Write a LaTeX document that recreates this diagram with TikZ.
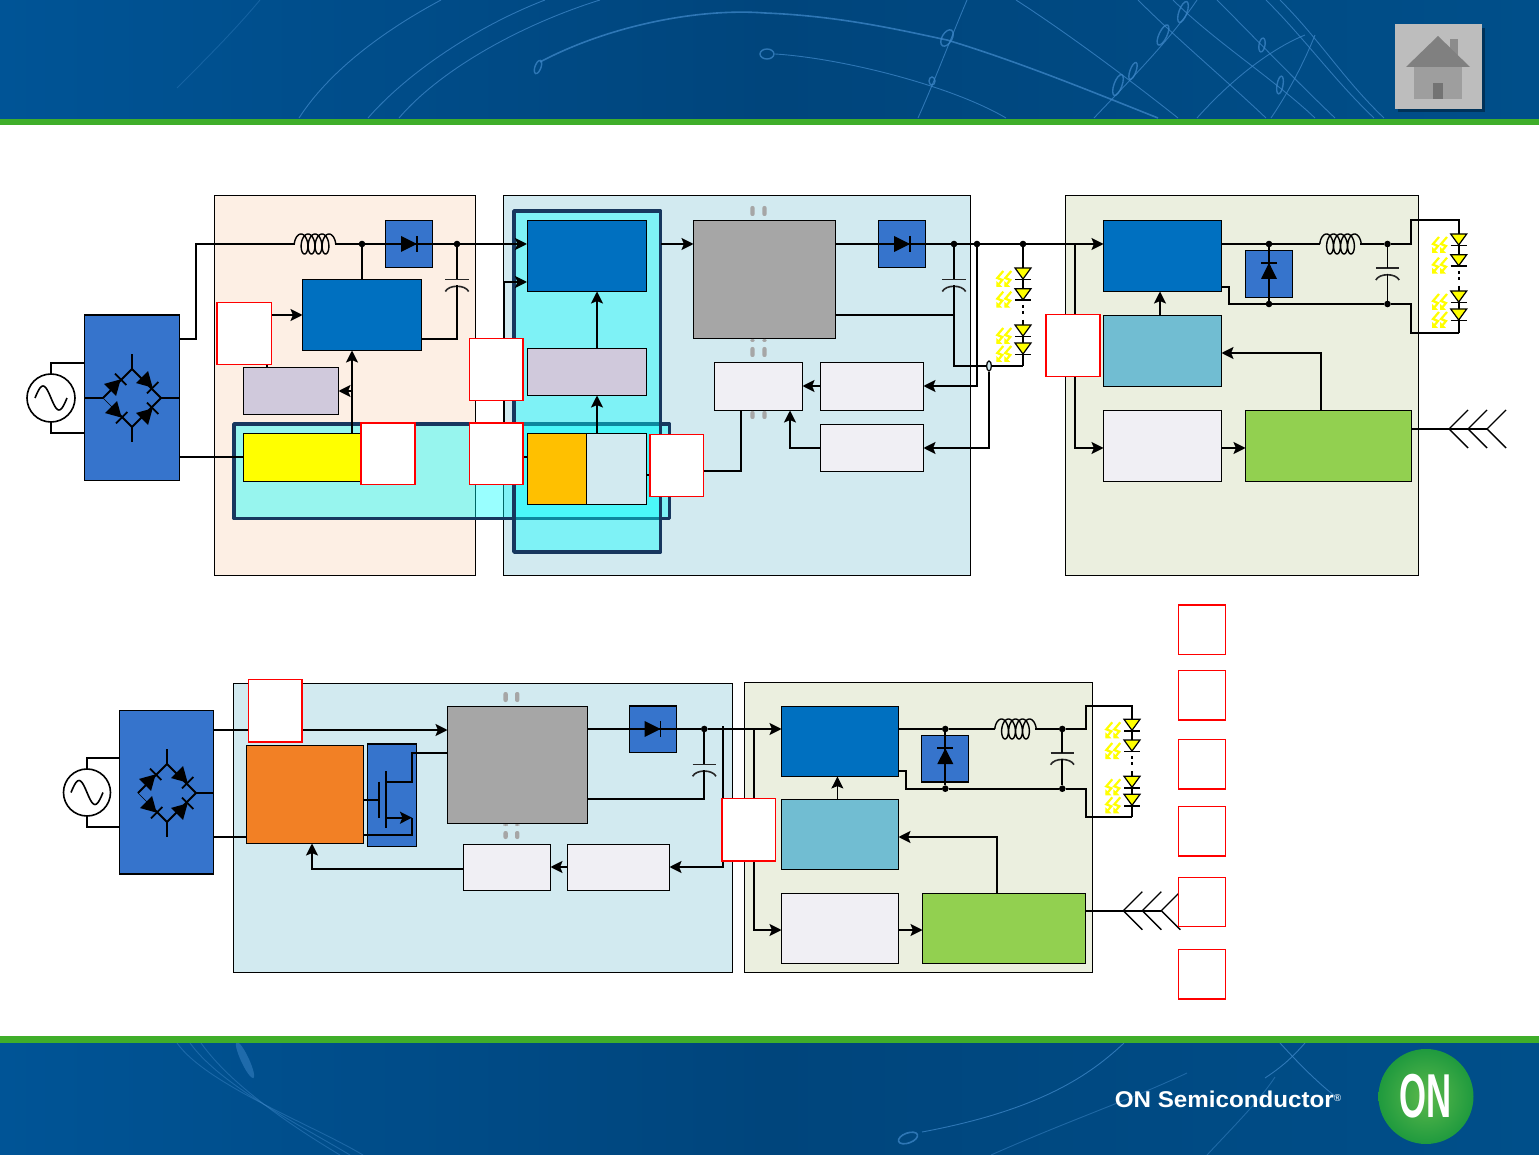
\documentclass[tikz,border=0pt]{standalone}
\usepackage{fontspec}
\setmainfont{Liberation Sans}
\usetikzlibrary{arrows.meta,calc,shapes.geometric}
\definecolor{peach}{HTML}{FDEFE4}
\definecolor{iceblue}{HTML}{D2EAF0}
\definecolor{olivebg}{HTML}{EBEFDF}
\definecolor{bridgeblue}{HTML}{3674CC}
\definecolor{ctrlblue}{HTML}{0070C0}
\definecolor{lilac}{HTML}{D0C9DC}
\definecolor{amber}{HTML}{FFC000}
\definecolor{midgray}{HTML}{A6A6A6}
\definecolor{pale}{HTML}{F0EFF4}
\definecolor{tealbox}{HTML}{71BDD2}
\definecolor{leaf}{HTML}{92D050}
\definecolor{burnt}{HTML}{F28025}
\definecolor{navy}{HTML}{17375E}
\definecolor{bandgreen}{HTML}{3FAE2A}
\definecolor{bgA}{HTML}{005496}
\definecolor{bgB}{HTML}{00457C}
\definecolor{bgC}{HTML}{004F8A}
\definecolor{swirl}{HTML}{3E87C8}
\definecolor{zonecyan}{RGB}{0,255,255}
\definecolor{ledyellow}{RGB}{255,255,0}
\definecolor{alertred}{RGB}{255,0,0}
\definecolor{logoin}{HTML}{5CB94B}
\definecolor{logoout}{HTML}{1F9A3E}
\tikzset{
  blockbox/.style={draw=black,line width=.5pt},
  wire/.style={draw=black,line width=.9pt,line join=miter},
  flow/.style={wire,-{Stealth[length=6pt,width=6pt,inset=1.2pt]}},
  jdot/.style={circle,fill=black,inner sep=0pt,minimum size=3.3pt,outer sep=0pt},
  redbox/.style={draw=alertred,line width=.65pt,fill=white},
  zone/.style={draw=navy,line width=1.75pt,fill=zonecyan,fill opacity=.4,draw opacity=1,line join=round},
  swirlline/.style={draw=swirl,line width=.45pt,opacity=.75},
}
\newcommand\bx[6]{\node[#6,rectangle,inner sep=0pt,outer sep=0pt,minimum width={(#4-#2)*0.5pt},minimum height={(#5-#3)*0.5pt}] (#1) at ({(#2+#4)/2},{(#3+#5)/2}) {};}
\newcommand\coil[3]{\coordinate (#1-a) at (#2,#3); \coordinate (#1-b) at ({#2+40},#3);
  \draw[wire,line width=.7pt] plot[domain=-90:1530,samples=190,smooth] ({#2+6.5+7*\x/360+5*sin(\x)},{#3-10*cos(\x)});}
\newcommand\hdiode[2]{\fill[black] ({#1-8},{#2-8})--({#1-8},{#2+8})--({#1+8},#2)--cycle; \draw[wire] ({#1+8},{#2-8})--({#1+8},{#2+8});}
\newcommand\updiode[3]{\fill[black] ({#1-8},#3)--({#1+8},#3)--(#1,#2)--cycle; \draw[wire] ({#1-8},#2)--({#1+8},#2);}
\newcommand\capac[3]{\coordinate (#1-a) at (#2,#3); \coordinate (#1-b) at (#2,{#3+6});
  \draw[wire,line width=.8pt,black!85] ({#2-11.7},#3)--({#2+11.7},#3);
  \draw[wire,line width=.8pt,black!85] ({#2-11.7},{#3+12}) .. controls ({#2-8},{#3+5}) and ({#2+8},{#3+5}) .. ({#2+11.7},{#3+12});}
\newcommand\acsrc[4]{\node[circle,draw=black,line width=.8pt,fill=white,inner sep=0pt,outer sep=0pt,minimum size={2*#4*0.5pt}] (#1) at (#2,#3) {};
  \draw[wire,line width=.8pt] plot[domain=-1:1,samples=40,smooth] ({#2+16*\x},{#3+12*sin(\x*180)});}
\newcommand\bdiode[3]{\begin{scope}[shift={(#1,#2)},rotate=#3]
  \fill[black] (-7,-8.5)--(-7,8.5)--(8,0)--cycle; \draw[wire] (8,-8)--(8,8);\end{scope}}
\newcommand\rectifier[3]{% name, cx, cy
  \coordinate (#1-t) at (#2,{#3-29}); \coordinate (#1-b) at (#2,{#3+29});
  \coordinate (#1-l) at ({#2-29},#3); \coordinate (#1-r) at ({#2+29},#3);
  \draw[wire] (#1-l)--(#1-t)--(#1-r)--(#1-b)--({#2-12},{#3+17});
  \draw[black,line width=.25pt] (#1-l)--({#2-12},{#3+17});
  \draw[wire] (#1-t)--++(0,-15); \draw[wire] (#1-b)--++(0,15);
  \bdiode{#2-17}{#3-13}{45}
  \bdiode{#2+15}{#3-16}{-45}
  \bdiode{#2-16}{#3+14}{-45}
  \bdiode{#2+15}{#3+16}{45}}
\newcommand\glow[2]{\begin{scope}[shift={(#1,#2)}]
  \draw[ledyellow,line width=1.1pt] (7,0)--(1,7)--(6,9)--(1,15);
  \draw[ledyellow,line width=1.1pt] (15,0)--(9,7)--(14,9)--(9,15);
  \fill[ledyellow] (0,16)--(0,10)--(6,16)--cycle; \fill[ledyellow] (8,16)--(8,10)--(14,16)--cycle;
  \end{scope}}
\newcommand\ledtri[2]{\filldraw[fill=ledyellow,draw=black,line width=.6pt] ({#1-8},#2)--({#1+8},#2)--(#1,{#2+11})--cycle;
  \draw[wire] ({#1-8},{#2+11.5})--({#1+8},{#2+11.5});\glow{#1-26.7}{#2+3}}
\newcommand\ledstack[4]{% name, x, ytop of first LED, y of bottom rail
  \coordinate (#1-top) at (#2,#3); \coordinate (#1-bot) at (#2,{#3+52}); \coordinate (#1-rail) at (#2,#4);
  \draw[wire] (#1-top)--++(0,31);
  \draw[black,line width=1.1pt,dash pattern=on 1.5pt off 1.5pt] (#2,{#3+37})--(#2,{#3+48});
  \draw[wire] (#1-bot)--(#1-rail);
  \ledtri{#2}{#3}\ledtri{#2}{#3+20.7}\ledtri{#2}{#3+57}\ledtri{#2}{#3+75}}
\newcommand\gdot[3]{\fill[midgray,rounded corners=1pt] ({#1-2.2},#2) rectangle ({#1+2.2},#3);}
\newcommand\antenna[4]{% name x0 xv y
  \coordinate (#1) at (#3,#4);
  \foreach \k in {0,1,2}{\draw[wire,line width=.7pt] ({#3+19*\k+19},{#4-19})--({#3+19*\k},#4)--({#3+19*\k+19},{#4+19});}}
\begin{document}
\begin{tikzpicture}[x=0.5pt,y=-0.5pt]
\useasboundingbox (0,0) rectangle (1539,1155);
% ---- banners
\shade[left color=bgA,right color=bgC,middle color=bgB] (0,0) rectangle (1539,120);
\shade[left color=bgA,right color=bgC,middle color=bgB] (0,1042) rectangle (1539,1155);
\begin{scope}
\clip (0,0) rectangle (1539,119);
\draw[swirlline,opacity=.35] (177,88)..controls (205,60) and (235,30)..(260,0);
\draw[swirlline] (299,118)..controls (330,70) and (385,30)..(441,0);
\draw[swirlline] (368,118)..controls (410,70) and (480,25)..(545,0);
\draw[swirlline] (399,118)..controls (440,70) and (520,25)..(600,0);
\draw[swirlline,line width=.8pt] (540,62)..controls (610,25) and (700,8)..(765,13)..controls (840,16) and (900,30)..(947,40)..controls (1020,62) and (1100,95)..(1158,118);
\draw[swirlline] (775,54)..controls (840,58) and (950,85)..(1006,118);
\draw[swirlline] (918,118)..controls (935,80) and (950,40)..(967,0);
\draw[swirlline] (1016,0)..controls (1070,35) and (1130,80)..(1178,118);
\foreach \a/\b in {1138/1266,1173/1315,1217/1335,1266/1374,1280/1384}{\draw[swirlline] (\a,0)..controls ({\a+40},40) and ({\b-40},80)..(\b,118);}
\draw[swirlline] (1094,118)..controls (1130,80) and (1170,40)..(1197,0);
\draw[swirlline] (1197,118)..controls (1240,70) and (1280,45)..(1305,35);
\draw[swirlline] (1271,118)..controls (1290,90) and (1305,60)..(1315,35);
\foreach \ex/\ey/\ra/\rb/\ang in {538/67/3/7/-20,767/54/7/5/0,947/38/5/9/-30,932/81/3/4/0,1118/85/4/11/-20,1133/71/3/9/-20,1163/35/4/11/-25,1183/12/4/11/-20,1280/85/3/9/-10,1262/45/3/7/-10}{
  \draw[swirlline,line width=.7pt] (\ex,\ey) ellipse[x radius=\ra,y radius=\rb,rotate=\ang];}
\end{scope}
\begin{scope}
\clip (0,1043) rectangle (1539,1155);
\foreach \a/\b in {177/363,190/350,201/340}{\draw[swirlline,opacity=.45] (\a,1043)..controls ({\a+30},1085) and ({\b-50},1125)..(\b,1155);}
\fill[swirl,opacity=.5] (245,1060) ellipse[x radius=4,y radius=20,rotate=25];
\draw[swirlline] (1124,1043)..controls (1090,1075) and (1040,1110)..(922,1132);
\draw[swirlline,line width=.8pt] (908,1138) ellipse[x radius=10,y radius=5,rotate=20];
\draw[swirlline,opacity=.5] (991,1155)..controls (1070,1120) and (1130,1100)..(1187,1073);
\draw[swirlline,opacity=.5] (1207,1155)..controls (1235,1125) and (1260,1100)..(1275,1077);
\draw[swirlline] (1305,1043)..controls (1290,1060) and (1280,1068)..(1265,1078);
\draw[swirlline] (1280,1043)..controls (1300,1065) and (1320,1085)..(1340,1100);
\end{scope}
\fill[bandgreen] (0,119) rectangle (1539,125);
\fill[bandgreen] (0,1036) rectangle (1539,1043);
% ---- home button
\fill[black,opacity=.35] (1398,28) rectangle (1485,112);
\node[rectangle,fill=black!26,inner sep=0pt,outer sep=0pt,minimum width=43.5pt,minimum height=42.5pt] (homebtn) at (1438.5,67) {};
\fill[black!45] (1450,39) rectangle (1458,62);
\fill[black!38] (1414,67) rectangle (1462,99);
\fill[black!55] (1433,83) rectangle (1443,99);
\fill[black!50] (1438,36)--(1470,67)--(1406,67)--cycle;
% ---- logo
\node[circle,inner sep=0pt,outer sep=0pt,minimum size=47.5pt,inner color=logoin,outer color=logoout] (onlogo) at (1426,1096.5)
  {\color{white}\fontsize{31}{31}\selectfont\bfseries\scalebox{.56}[1]{ON}};
\node[white,inner sep=0pt,font=\bfseries\fontsize{11.4}{13}\selectfont] (onword) at (1228,1099)
  {\scalebox{1.06}[1]{ON Semiconductor}\raisebox{3pt}{\fontsize{5}{6}\selectfont\mdseries ®}};
% ---- zones, top diagram
\bx{zoneA}{214}{196}{475.5}{575.5}{blockbox,fill=peach}
\bx{zoneB}{503.5}{196}{970.5}{575.5}{blockbox,fill=iceblue}
\bx{zoneC}{1065.5}{196}{1418.5}{575.5}{blockbox,fill=olivebg}
\bx{focusH}{234}{424}{669.5}{518.5}{zone}
\bx{focusV}{514}{211}{660.5}{552}{zone}
% ---- zones, lower diagram
\bx{zoneD}{233}{683.5}{732.5}{972.5}{blockbox,fill=iceblue}
\bx{zoneE}{744.5}{682.5}{1092.5}{972.5}{blockbox,fill=olivebg}
% ---- top boxes
\bx{brA}{84.5}{315}{179.5}{480.5}{blockbox,fill=bridgeblue}
\draw[black,line width=1pt] (brA.north west)--(brA.north east);
\bx{ctrlA}{302.5}{279.5}{421.5}{350.5}{blockbox,fill=ctrlblue}
\bx{dioA}{385.5}{220.5}{432.5}{267.5}{blockbox,fill=bridgeblue}
\bx{lilA}{243.5}{367.5}{338.5}{414.5}{blockbox,fill=lilac}
\bx{yelA}{243.5}{433.5}{362}{481.5}{blockbox,fill=ledyellow}
\bx{ctrlB}{527}{220.5}{646.5}{291.5}{blockbox,fill=ctrlblue}
\bx{lilB}{527}{348.5}{646.5}{395.5}{blockbox,fill=lilac}
\bx{ambA}{527}{433.5}{586.5}{504.5}{blockbox,fill=amber}
\bx{iceA}{586.5}{433.5}{646.5}{504.5}{blockbox,fill=iceblue}
\bx{swA}{693.5}{220.5}{835.5}{338.5}{blockbox,fill=midgray}
\bx{dioB}{878.5}{220.5}{925.5}{267.5}{blockbox,fill=bridgeblue}
\bx{palA}{714.5}{362.5}{802.5}{410.5}{blockbox,fill=pale}
\bx{palB}{820.5}{362.5}{923.5}{410.5}{blockbox,fill=pale}
\bx{palC}{820.5}{424.5}{923.5}{472}{blockbox,fill=pale}
\bx{ctrlC}{1103.5}{220.5}{1221.5}{291.5}{blockbox,fill=ctrlblue}
\bx{dioC}{1245.5}{250.5}{1292.5}{297.5}{blockbox,fill=bridgeblue}
\bx{tealA}{1103.5}{315.5}{1221.5}{386.5}{blockbox,fill=tealbox}
\bx{palD}{1103.5}{410.5}{1221.5}{481.5}{blockbox,fill=pale}
\bx{leafA}{1245.5}{410.5}{1411.5}{481.5}{blockbox,fill=leaf}
% gray pads
\foreach \gx in {752.5,764.5}{\gdot{\gx}{206}{216}\gdot{\gx}{339}{342}\gdot{\gx}{347}{357}\gdot{\gx}{411}{419}}
% ---- lower boxes
\bx{brB}{119.5}{710.5}{213.5}{874}{blockbox,fill=bridgeblue}
\draw[black,line width=1pt] (brB.south west)--(brB.south east);
\bx{orgA}{246.5}{745.5}{363.5}{843.5}{blockbox,fill=burnt}
\bx{fetA}{367.5}{743.5}{416.5}{846.5}{blockbox,fill=bridgeblue}
\draw[black,line width=1pt] (fetA.north west)--(fetA.north east);
\bx{swB}{447.5}{706.5}{587.5}{823.5}{blockbox,fill=midgray}
\bx{dioD}{629.5}{705.5}{676.5}{752.5}{blockbox,fill=bridgeblue}
\draw[black,line width=1pt] (dioD.north west)--(dioD.north east);
\bx{palE}{463.5}{844.5}{550.5}{890.5}{blockbox,fill=pale}
\bx{palF}{567.5}{844.5}{669.5}{890.5}{blockbox,fill=pale}
\bx{ctrlD}{781.5}{706.5}{898.5}{776.5}{blockbox,fill=ctrlblue}
\bx{dioE}{921.5}{735.5}{968.5}{782}{blockbox,fill=bridgeblue}
\draw[black,line width=1pt] (dioE.south west)--(dioE.south east);
\bx{tealB}{781.5}{799.5}{898.5}{869.5}{blockbox,fill=tealbox}
\bx{palG}{781.5}{893.5}{898.5}{963.5}{blockbox,fill=pale}
\bx{leafB}{922.5}{893.5}{1085.5}{963.5}{blockbox,fill=leaf}
\foreach \gx in {505.6,517.2}{\gdot{\gx}{692}{702}\gdot{\gx}{824}{826}\gdot{\gx}{831}{839}}
% ---- top diagram : input
\acsrc{acA}{51}{398}{24}
\draw[wire] (acA.north)|-(brA.west |- 0,363);
\draw[wire] (acA.south)|-(brA.west |- 0,433);
\rectifier{rcA}{132}{398}
\draw[wire] (brA.west |- rcA-l)--(rcA-l);
\draw[wire] (rcA-r)--(brA.east |- rcA-r);
% PFC stage
\coil{lA}{294.5}{244}
\node[jdot] (jA) at (362,244) {};
\node[jdot] (jB) at (457,244) {};
\draw[wire] (brA.east |- 0,339)-|(196,244)--(lA-a);
\draw[wire] (lA-b)--(jA)--(dioA.center);
\hdiode{409}{244}
\draw[flow] (dioA.center)--(jB)--(ctrlB.west |- jB);
\draw[wire] (jA)--(ctrlA.north -| jA);
\capac{cA}{457}{279.5}
\draw[wire] (jB)--(cA-a);
\draw[wire] (cA-b)--(457,339)--(ctrlA.east |- 0,339);
\draw[flow] (ctrlA.west |- 0,315)++(-32,0)--(ctrlA.west |- 0,315);
\draw[wire] (yelA.west |- 0,457)--(brA.east |- 0,457);
\draw[flow] (352,433.5)--(352,350.5);
\draw[flow] (352,391)--(lilA.east |- 0,391);
\draw[wire] (267,362)--(267,367.5);
% feed to second controller
\draw[flow] (504,457)--(504,282)--(ctrlB.west |- 0,282);
\draw[wire] (504,457)--(ambA.west |- 0,457);
\draw[flow] (597,433.5)--(lilB.south -| 597,0);
\draw[flow] (lilB.north -| 597,0)--(ctrlB.south -| 597,0);
\draw[flow] (661,244)--(swA.west |- 0,244);
% switcher output
\node[jdot] (jC) at (954,244) {};
\node[jdot] (jD) at (977,244) {};
\node[jdot] (jE) at (1023,244) {};
\draw[wire] (swA.east |- 0,244)--(dioB.center);
\hdiode{902}{244}
\draw[flow] (dioB.center)--(jC)--(jD)--(jE)--(ctrlC.west |- jE);
\capac{cB}{954}{279.5}
\draw[wire] (jC)--(cB-a);
\draw[wire] (cB-b)--(954,366)--(1023,366);
\draw[wire] (swA.east |- 0,315)--(954,315);
\ledstack{ledA}{1023}{268}{366}
\draw[wire] (jE)--(ledA-top);
\node[ellipse,draw=black,line width=.6pt,fill=iceblue,inner sep=0pt,minimum width=2.4pt,minimum height=5pt] (sense) at (989,366) {};
\draw[flow] (jD)--(977,386)--(palB.east |- 0,386);
\draw[flow] (sense.south)--(989,448)--(palC.east |- 0,448);
\draw[flow] (palB.west |- 0,386)--(palA.east |- 0,386);
\draw[flow] (palC.west)-|(790,410.5);
\draw[wire] (703,471)-|(741,410.5);
\draw[wire] (646.5,475)--(650,475);
% LED driver, top
\node[jdot] (jF) at (1269,244) {};
\node[jdot] (jG) at (1387.5,244) {};
\node[jdot] (jH) at (1269,304) {};
\node[jdot] (jI) at (1387.5,304) {};
\coil{lB}{1320}{244}
\ledstack{ledB}{1458.7}{234}{332.7}
\draw[wire] (ctrlC.east |- jF)--(jF)--(lB-a);
\draw[wire] (lB-b)--(jG)--(1411,244)--(1411,220)--(ledB-top |- 0,220)--(ledB-top);
\draw[wire] (ctrlC.east |- 0,287)--(1229,287)--(1229,304)--(jH)--(jI)--(1411,304)--(1411,332.7)--(ledB-rail);
\draw[wire] (jF)--(jH);
\updiode{1269}{262.7}{279}
\capac{cC}{1387.5}{268}
\draw[wire] (jG)--(cC-a);
\draw[wire] (cC-b)--(jI);
\draw[flow] (tealA.north -| 1160,0)--(ctrlC.south -| 1160,0);
\draw[flow] (1075,244)--(1075,448)--(palD.west |- 0,448);
\draw[flow] (palD.east |- 0,448)--(leafA.west |- 0,448);
\draw[flow] (leafA.north -| 1321,0)--(1321,353)--(tealA.east |- 0,353);
\antenna{antA}{0}{1449}{429}
\draw[wire] (leafA.east |- antA)--(1486.7,429);
% ---- lower diagram
\acsrc{acB}{87}{792.5}{23.5}
\draw[wire] (acB.north)|-(brB.west |- 0,758);
\draw[wire] (acB.south)|-(brB.west |- 0,827);
\rectifier{rcB}{167}{793}
\draw[wire] (rcB-r)--(brB.east |- rcB-r);
\draw[flow] (brB.east |- 0,730)--(swB.west |- 0,730);
\draw[wire] (brB.east |- 0,836.7)--(orgA.west |- 0,836.7);
% MOSFET
\draw[wire] (orgA.east |- 0,800)--(378.8,800);
\draw[wire] (378.8,781.7)--(378.8,818.3);
\draw[wire] (386,771)--(386,828.3);
\draw[wire] (386,782)--(412,782)--(412,752.7)--(swB.west |- 0,752.7);
\draw[flow] (386,817.7)--(412,817.7);
\draw[wire] (412,817.7)--(412,835)--(orgA.east |- 0,835);
\draw[wire] (swB.east |- 0,729)--(dioD.center);
\hdiode{652.5}{729}
\node[jdot] (jJ) at (704.3,729) {};
\draw[flow] (dioD.center)--(jJ)--(ctrlD.west |- jJ);
\capac{cD}{704.3}{764.3}
\draw[wire] (jJ)--(cD-a);
\draw[wire] (cD-b)--(704.3,798.7)--(swB.east |- 0,798.7);
\draw[flow] (723,726)--(723,867)--(palF.east |- 0,867);
\draw[flow] (palF.west |- 0,867)--(palE.east |- 0,867);
\draw[flow] (palE.west |- 0,869)-|(312,843.5);
% LED driver, lower
\node[jdot] (jK) at (945.3,729) {};
\node[jdot] (jL) at (1062.3,729) {};
\node[jdot] (jM) at (945.3,788.7) {};
\node[jdot] (jN) at (1062.3,788.7) {};
\coil{lC}{995}{729}
\ledstack{ledC}{1132}{719.3}{816.7}
\draw[wire] (ctrlD.east |- jK)--(jK)--(lC-a);
\draw[wire] (lC-b)--(jL)--(1086,729)--(1086,705.7)--(ledC-top |- 0,705.7)--(ledC-top);
\draw[wire] (ctrlD.east |- 0,770.7)--(905.7,770.7)--(905.7,788.7)--(jM)--(jN)--(1086,788.7)--(1086,816.7)--(ledC-rail);
\draw[wire] (jK)--(jM);
\updiode{945.3}{748.3}{764}
\capac{cE}{1062.3}{752.7}
\draw[wire] (jL)--(cE-a);
\draw[wire] (cE-b)--(jN);
\draw[flow,line width=.5pt] (tealB.north -| 837.4,0)--(ctrlD.south -| 837.4,0);
\draw[flow] (754,729)--(754,930)--(palG.west |- 0,930);
\draw[flow] (palG.east |- 0,930)--(leafB.west |- 0,930);
\draw[flow] (leafB.north -| 997,0)--(997,837)--(tealB.east |- 0,837);
\antenna{antB}{0}{1123.3}{910.7}
\draw[wire] (leafB.east |- antB)--(1160.7,910.7);
% ---- red call-out boxes
\bx{rA}{217}{302.5}{271.5}{364.5}{redbox}
\bx{rB}{361}{423}{415}{484.5}{redbox}
\bx{rC}{469.5}{338.5}{523}{400.5}{redbox}
\bx{rD}{469.5}{423}{523}{484.5}{redbox}
\bx{rE}{650}{434.5}{703.5}{496.5}{redbox}
\bx{rF}{1046}{314.5}{1100}{376.5}{redbox}
\bx{rG}{248.5}{679.5}{302}{742}{redbox}
\bx{rH}{722}{798.5}{775.5}{861}{redbox}
\bx{keyA}{1178.5}{605}{1225.5}{654.5}{redbox}
\bx{keyB}{1178.5}{670.5}{1225.5}{720}{redbox}
\bx{keyC}{1178.5}{739.5}{1225.5}{789}{redbox}
\bx{keyD}{1178.5}{806.5}{1225.5}{856}{redbox}
\bx{keyE}{1178.5}{877.5}{1225.5}{926.5}{redbox}
\bx{keyF}{1178.5}{949.5}{1225.5}{999}{redbox}
\end{tikzpicture}
\end{document}
